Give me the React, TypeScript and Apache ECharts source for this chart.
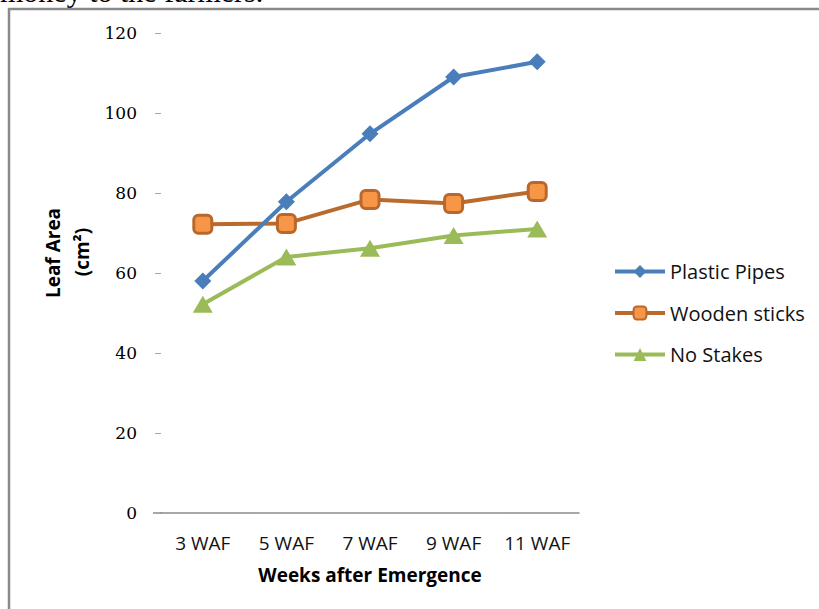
import React, { useEffect, useRef } from "react";
import * as echarts from "echarts";

const categories = ["3 WAF", "5 WAF", "7 WAF", "9 WAF", "11 WAF"];
const plasticPipes = [58, 77.8, 94.8, 109, 112.8];
const woodenSticks = [72.2, 72.4, 78.4, 77.4, 80.4];
const noStakes = [52.2, 64, 66.2, 69.4, 71];
const yTicks = { min: 0, max: 120, interval: 20 };

const SANS = "'Open Sans', 'Noto Sans', sans-serif";

export default function App() {
  const ref = useRef<HTMLDivElement>(null);
  useEffect(() => {
    const chart = echarts.init(ref.current!, null, { renderer: "svg" });
    chart.setOption({
      animation: false,
      backgroundColor: "#ffffff",
      grid: { left: 161, top: 33, width: 418, bottom: 96, containLabel: false },
      xAxis: {
        type: "category",
        data: categories,
        boundaryGap: true,
        axisLine: { show: true, lineStyle: { color: "#8c8c8c", width: 1.5 } },
        axisTick: { show: false },
        axisLabel: { color: "#111", fontFamily: SANS, fontSize: 19, margin: 20, interval: 0 },
        name: "Weeks after Emergence",
        nameLocation: "middle",
        nameGap: 52,
        nameTextStyle: { color: "#000", fontFamily: SANS, fontSize: 19, fontWeight: "bold" },
      },
      yAxis: {
        type: "value",
        min: yTicks.min,
        max: yTicks.max,
        interval: yTicks.interval,
        axisLine: { show: false },
        axisTick: { show: true, length: 6, lineStyle: { color: "#a6a6a6" } },
        splitLine: { show: false },
        axisLabel: { color: "#000", fontFamily: "'DejaVu Serif', serif", fontSize: 17, margin: 24 },
      },
      legend: {
        orient: "vertical",
        left: 608,
        top: 256,
        itemWidth: 50,
        itemHeight: 16,
        itemGap: 20.5,
        lineStyle: { width: 4 },
        textStyle: { color: "#111", fontFamily: SANS, fontSize: 20, lineHeight: 21 },
        data: ["Plastic Pipes", "Wooden sticks", "No Stakes"],
      },
      graphic: [
        {
          type: "text",
          left: 0,
          top: -24,
          style: { text: "money to the farmers.", fontFamily: "'Liberation Serif', serif", fontSize: 30, fill: "#000" },
        },
        { type: "line", shape: { x1: 8, y1: 9, x2: 819, y2: 9 }, style: { stroke: "#8a8a8a", lineWidth: 2.5 } },
        { type: "line", shape: { x1: 9, y1: 8, x2: 9, y2: 609 }, style: { stroke: "#8a8a8a", lineWidth: 2.5 } },
        { type: "line", shape: { x1: 153, y1: 513, x2: 162, y2: 513 }, style: { stroke: "#8c8c8c", lineWidth: 1.5 } },
        {
          type: "text",
          x: 53,
          y: 253,
          rotation: Math.PI / 2,
          style: {
            text: "Leaf Area",
            fontFamily: SANS,
            fontSize: 19,
            fontWeight: "bold",
            fill: "#000",
            align: "center",
            verticalAlign: "middle",
          },
        },
        {
          type: "text",
          x: 82,
          y: 252,
          rotation: Math.PI / 2,
          style: {
            text: "(cm²)",
            fontFamily: SANS,
            fontSize: 19,
            fontWeight: "bold",
            fill: "#000",
            align: "center",
            verticalAlign: "middle",
          },
        },
      ],
      series: [
        {
          name: "Plastic Pipes",
          type: "line",
          data: plasticPipes,
          symbol: "diamond",
          symbolSize: 17,
          lineStyle: { color: "#4a7ebb", width: 4 },
          itemStyle: { color: "#4a7ebb" },
          z: 3,
        },
        {
          name: "Wooden sticks",
          type: "line",
          data: woodenSticks,
          symbol: "roundRect",
          symbolSize: 18,
          lineStyle: { color: "#bb6a2e", width: 4 },
          itemStyle: { color: "#f79646", borderColor: "#b9682d", borderWidth: 3 },
          z: 2,
        },
        {
          name: "No Stakes",
          type: "line",
          data: noStakes,
          symbol: "triangle",
          symbolSize: [20, 17],
          lineStyle: { color: "#9bbb59", width: 4 },
          itemStyle: { color: "#9bbb59" },
          z: 1,
        },
      ],
    });
    return () => chart.dispose();
  }, []);
  return (
    <div
      ref={ref}
      style={{ position: "fixed", left: 0, top: 0, width: 819, height: 609 }}
    />
  );
}
